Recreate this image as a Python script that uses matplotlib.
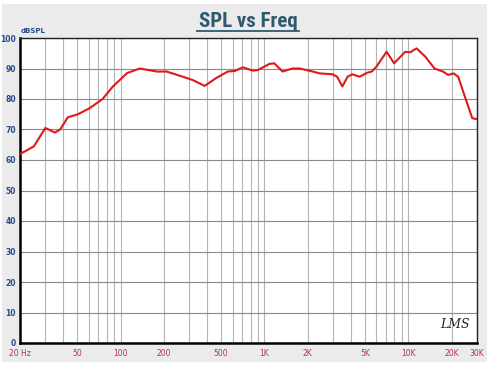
import matplotlib
matplotlib.use("Agg")
import matplotlib.pyplot as plt
from matplotlib import font_manager
import numpy as np

freq = [20, 22, 25, 30, 35, 38, 43, 50.6, 61, 75, 88, 111, 136, 179, 209, 271, 318, 384,
        463, 556, 622, 707, 829, 900, 1083, 1171, 1335, 1565, 1760, 2170, 2413, 2974, 3200,
        3478, 3782, 4070, 4585, 5167, 5570, 6000, 7060, 7960, 9530, 10300, 11400, 13100,
        15200, 17400, 18900, 20600, 22200, 24500, 27800, 30000]
spl = [62, 63, 64.5, 70.5, 69, 70, 74, 75, 77, 80, 84, 88.5, 90, 89, 89, 87.3, 86.2, 84.3,
       86.9, 89, 89.2, 90.4, 89.3, 89.5, 91.5, 91.7, 89, 90, 90, 89, 88.4, 88.1, 87.3,
       84.1, 87.3, 88.1, 87.3, 88.6, 89, 90.6, 95.5, 91.7, 95.5, 95.3, 96.6, 93.9,
       90, 89, 87.9, 88.4, 87.3, 81.3, 73.7, 73.4]

xtick_vals = [20, 50, 100, 200, 500, 1000, 2000, 5000, 10000, 20000, 30000]
xtick_labels = ["20 Hz", "50", "100", "200", "500", "1K", "2K", "5K", "10K", "20K", "30K"]
ytick_vals = list(range(0, 101, 10))

title_family = "Roboto"
for cand in ["Roboto Condensed", "Liberation Sans Narrow", "Roboto"]:
    try:
        font_manager.findfont(font_manager.FontProperties(family=cand), fallback_to_default=False)
        title_family = cand
        break
    except Exception:
        pass

W, H = 490, 368
fig = plt.figure(figsize=(4.9, 3.68), dpi=100)
fig.patch.set_facecolor("white")
fig.add_artist(matplotlib.patches.Rectangle((2/W, 1 - 362/H), 485/W, 358/H,
                                            transform=fig.transFigure, facecolor="#ebebeb",
                                            edgecolor="none", zorder=0))
ax = fig.add_axes([20/W, 25/H, 457/W, 305/H])
ax.set_facecolor("white")
ax.set_xscale("log")
ax.set_xlim(20, 30000)
ax.set_ylim(0, 100)

vlines = []
for dec in [10, 100, 1000, 10000]:
    for m in range(1, 10):
        v = m * dec
        if 20 <= v <= 30000:
            vlines.append(v)
for v in vlines:
    ax.axvline(v, color="#b4b4b4", lw=0.8, zorder=1)
for y in ytick_vals:
    ax.axhline(y, color="#8a8a8a", lw=0.8, zorder=1)

ax.plot(freq, spl, color="#e01818", lw=1.5, zorder=3)

ax.set_xticks(xtick_vals)
ax.set_xticklabels(xtick_labels)
ax.xaxis.set_minor_locator(matplotlib.ticker.NullLocator())
ax.set_yticks(ytick_vals)
ax.set_yticklabels([str(v) for v in ytick_vals])
ax.tick_params(axis="x", length=0, pad=4, labelsize=5.5, labelcolor="#b03070")
ax.tick_params(axis="y", length=0, pad=3, labelsize=5.5, labelcolor="#2b4c8c")
for lab in ax.get_yticklabels():
    lab.set_fontweight("bold")

for side in ["left", "bottom"]:
    ax.spines[side].set_linewidth(1.8)
    ax.spines[side].set_color("black")
for side in ["right", "top"]:
    ax.spines[side].set_linewidth(1.0)
    ax.spines[side].set_color("#222222")

fig.text(21/W, 1 - 31/H, "dBSPL", fontsize=5, color="#2b4c8c", fontweight="bold",
         ha="left", va="center")
fig.text(248/W, 1 - 27/H, "SPL vs Freq", fontsize=15, color="#2e5a6e",
         fontweight="bold", ha="center", va="baseline", family=title_family)
fig.add_artist(matplotlib.lines.Line2D([197/W, 299/W], [1 - 30.5/H, 1 - 30.5/H],
                                        color="#2e5a6e", lw=1.3, transform=fig.transFigure))
ax.text(0.985, 0.04, "LMS", transform=ax.transAxes, fontsize=9, style="italic",
        ha="right", va="bottom", color="#222222", family="DejaVu Serif")

fig.savefig("out.png", dpi=100, facecolor=fig.get_facecolor())
